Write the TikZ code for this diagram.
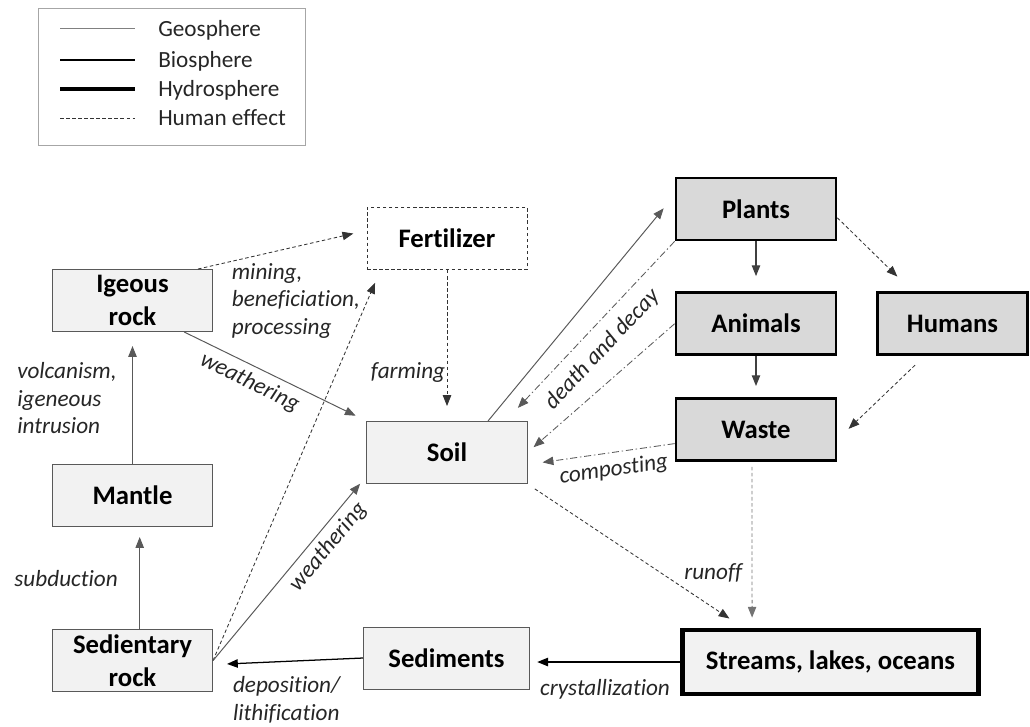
\documentclass[tikz,border=0pt]{standalone}
\usepackage{fontspec}
\setmainfont[Ligatures=NoCommon]{Carlito}
\usetikzlibrary{positioning, arrows.meta}

\definecolor{geofill}{HTML}{F2F2F2}
\definecolor{biofill}{HTML}{D9D9D9}
\definecolor{lineg}{HTML}{595959}
\definecolor{labelc}{HTML}{262626}

\begin{document}
\begin{tikzpicture}[
        x=0.025cm, y=0.025cm,
        >={Triangle[length=0.27cm, width=0.21cm]},
        box/.style={rectangle, align=center, minimum width=4cm, minimum height=1.55cm, inner sep=1pt, font=\bfseries\fontsize{19}{23.5}\selectfont},
        geobox/.style={box, draw=lineg, line width=0.7pt, fill=geofill},
        biobox/.style={box, draw=black, line width=1.9pt, fill=biofill},
        hydrobox/.style={box, draw=black, line width=3.4pt, fill=geofill},
        humanbox/.style={box, draw=black!80, line width=0.6pt, dash pattern=on 2.5pt off 1.8pt, fill=white},
        lbl/.style={font=\itshape\fontsize{16.5}{19.5}\selectfont, text=labelc, inner sep=1pt},
        legtxt/.style={font=\fontsize{16.5}{19.5}\selectfont, text=labelc, anchor=west, inner sep=0pt},
        geo/.style={->, draw=lineg, line width=0.7pt},
        bio/.style={->, draw=black!75, line width=0.9pt},
        hydro/.style={->, draw=black, line width=0.9pt},
        human/.style={->, draw=black!80, line width=0.6pt, dash pattern=on 2.5pt off 1.8pt},
        decay/.style={->, draw=lineg, line width=0.6pt, dash pattern=on 5pt off 2pt on 1pt off 2pt}
    ]
    \useasboundingbox (0,0) rectangle (1030,-726);

    % legend
    \draw[draw=gray!70, line width=0.6pt] (38,-8) rectangle (305,-145);
    \draw[draw=gray, line width=0.7pt] (60,-28) -- (135,-28);
    \draw[draw=black, line width=1.7pt] (60,-60) -- (135,-60);
    \draw[draw=black, line width=3.4pt] (60,-89) -- (135,-89);
    \draw[draw=black!80, line width=0.6pt, dash pattern=on 2.5pt off 1.8pt] (60,-118) -- (135,-118);
    \node[legtxt] (lgeo) at (158,-30) {Geosphere};
    \node[legtxt] (lbio) at (158,-61) {Biosphere};
    \node[legtxt] (lhydro) at (158,-90) {Hydrosphere};
    \node[legtxt] (lhuman) at (158,-118) {Human effect};

    % geosphere
    \node[humanbox] (fert) at (447,-238.5) {Fertilizer};
    \node[geobox] (igeous) at (132.5,-300.5) {Igeous\\rock};
    \node[geobox, below=3.3cm of igeous] (mantle) {Mantle};
    \node[geobox, below=2.55cm of mantle] (sedi) {Sedientary\\rock};
    \node[geobox] (soil) at (447,-452.5) {Soil};
    \node[geobox, minimum width=4.15cm] (sediments) at (446.5,-658) {Sediments};
    \node[hydrobox, minimum width=7.4cm, minimum height=1.6cm] (streams) at (830.5,-662) {Streams, lakes, oceans};

    % biosphere
    \node[biobox] (plants) at (756,-209) {Plants};
    \node[biobox, below=1.25cm of plants] (animals) {Animals};
    \node[biobox, below=1.03cm of animals] (waste) {Waste};
    \node[biobox, right=0.97cm of animals, minimum width=3.75cm] (humans) {Humans};

    \draw[geo, shorten >=0.35cm] (mantle) -- node[lbl, left=0.35cm, align=left] (volc) {volcanism,\\igeneous\\intrusion} (igeous);
    \draw[geo, shorten >=0.25cm] ([xshift=0.18cm]sedi.north) -- node[lbl, left=0.5cm] (subd) {subduction} ([xshift=0.18cm]mantle.south);
    \draw[geo, shorten >=0.3cm] ([xshift=-0.72cm]igeous.south east) -- node[lbl, sloped, below=0.12cm, pos=0.4] (weath1) {weathering} (soil.north west);
    \draw[human, shorten >=0.34cm] ([xshift=-0.375cm]igeous.north east) -- node[lbl, pos=0.19, anchor=north west, align=left] (mining) {mining,\\beneficiation,\\processing} ([yshift=0.2cm]fert.west);
    \draw[human, shorten >=0.35cm] (sedi.east) -- ([xshift=0.35cm]fert.south west);
    \draw[geo, shorten >=0.25cm] (sedi.east) -- node[lbl, sloped, below=0.1cm, pos=0.67] (weath2) {weathering} ([yshift=0.2cm]soil.south west);
    \draw[human, shorten >=0.375cm] (fert) -- node[lbl, left=0pt, pos=0.68] (farm) {farming} (soil);

    \draw[geo, shorten >=0.43cm] ([xshift=1.025cm]soil.north) -- ([yshift=0.35cm]plants.west);
    \draw[decay, shorten >=0.45cm] (plants.south west) -- node[lbl, sloped, below=0.24cm, pos=0.52] (death) {death and decay} ([xshift=-0.55cm]soil.north east);
    \draw[decay, shorten >=0.2cm] (animals.west) -- (soil.east);
    \draw[decay, shorten >=0.38cm] ([yshift=-0.35cm]waste.west) -- node[lbl, sloped, below=0.14cm, pos=0.43] (comp) {composting} ([yshift=-0.3cm]soil.east);
    \draw[bio, shorten >=0.38cm] (plants) -- (animals);
    \draw[bio, shorten >=0.28cm] (animals) -- (waste);
    \draw[human, shorten >=0.53cm] ([yshift=-0.22cm]plants.east) -- ([xshift=-1cm]humans.north);
    \draw[human, shorten <=0.33cm, shorten >=0.39cm] ([xshift=-0.7cm]humans.south) -- ([yshift=-0.25cm]waste.east);

    % hydrosphere
    \draw[human, draw=gray!90!black, shorten <=0.12cm, shorten >=0.25cm] ([xshift=-0.1cm]waste.south) -- node[lbl, left=0.2cm, pos=0.667] (runoff) {runoff} ([xshift=-1.96cm]streams.north);
    \draw[human, shorten <=0.22cm, shorten >=0.41cm] (soil.south east) -- ([xshift=1.575cm]streams.north west);
    \draw[hydro, shorten >=0.18cm] (streams.west) -- node[lbl, below=0.38cm] (cryst) {crystallization} (streams.west -| sediments.east);
    \draw[hydro, shorten >=0.35cm] (sediments.west) -- node[lbl, pos=0.88, anchor=north west, yshift=-0.27cm, align=left] (depo) {deposition/\\lithification} ([yshift=-0.1cm]sedi.east);
\end{tikzpicture}
\end{document}
